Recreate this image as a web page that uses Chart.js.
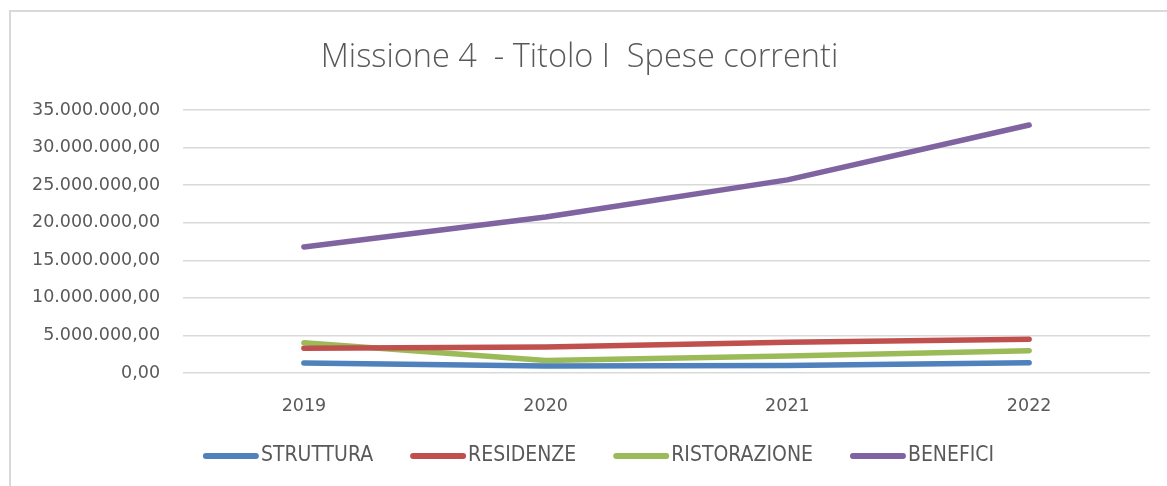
<!DOCTYPE html>
<html>
<head>
<meta charset="utf-8">
<script src="https://cdn.jsdelivr.net/npm/chart.js@4/dist/chart.umd.min.js"></script>
<style>
  html, body { margin: 0; padding: 0; background: #fff; overflow: hidden; }
  #frame {
    position: absolute; left: 9px; top: 10px; width: 1200px; height: 500px;
    border-left: 2px solid #d9d9d9; border-top: 2px solid #d9d9d9;
  }
  #wrap { position: absolute; left: 0; top: 0; width: 1167px; height: 486px; }
</style>
</head>
<body>
<div id="frame"></div>
<div id="wrap"><canvas id="myChart"></canvas></div>
<script>
var anni = ['2019', '2020', '2021', '2022'];
var struttura = [1330000, 930000, 1000000, 1370000];
var residenze = [3300000, 3460000, 4080000, 4500000];
var ristorazione = [4040000, 1650000, 2260000, 2970000];
var benefici = [16770000, 20760000, 25700000, 33000000];

var tickFont = { family: 'DejaVu Sans', size: 17.5 };

function formatta(v) {
    var parti = Math.round(v).toString().replace(/\B(?=(\d{3})+(?!\d))/g, '.');
    return parti + ',00';
}

function serie(label, data, colore) {
    return {
        label: label,
        data: data,
        borderColor: colore,
        backgroundColor: colore,
        borderWidth: 5.5,
        borderCapStyle: 'round',
        borderJoinStyle: 'round',
        pointRadius: 0,
        tension: 0
    };
}

// legenda disegnata a mano: linea lunga e testo attaccato
var legendaPlugin = {
    id: 'legenda',
    afterDraw: function (chart) {
        var c = chart.ctx;
        var y = 456;
        var lunghezza = 50;
        var gap = 5;
        var spazio = 34;
        c.save();
        c.font = '21px "DejaVu Sans Condensed"';
        var larghezze = chart.data.datasets.map(function (d) {
            return lunghezza + 6 + gap + c.measureText(d.label).width;
        });
        var totale = larghezze.reduce(function (a, b) { return a + b; }, 0) + spazio * (larghezze.length - 1);
        var x = 600 - totale / 2;
        chart.data.datasets.forEach(function (d, i) {
            c.strokeStyle = d.borderColor;
            c.lineWidth = 6;
            c.lineCap = 'round';
            c.beginPath();
            c.moveTo(x + 3, y);
            c.lineTo(x + 3 + lunghezza, y);
            c.stroke();
            c.fillStyle = '#595959';
            c.textBaseline = 'middle';
            c.fillText(d.label, x + lunghezza + 6 + gap - 3, y);
            x += larghezze[i] + spazio;
        });
        c.restore();
    }
};

var ctx = document.getElementById('myChart');
var myChart = new Chart(ctx, {
    type: 'line',
    data: {
        labels: anni,
        datasets: [
            serie('STRUTTURA', struttura, '#4f81bd'),
            serie('RESIDENZE', residenze, '#c0504d'),
            serie('RISTORAZIONE', ristorazione, '#9bbb59'),
            serie('BENEFICI', benefici, '#8064a2')
        ]
    },
    options: {
        responsive: true,
        maintainAspectRatio: false,
        animation: false,
        layout: { padding: { left: 9, right: 17, top: 38, bottom: 54 } },
        plugins: {
            title: {
                display: true,
                text: 'Missione 4  - Titolo I  Spese correnti',
                color: '#595959',
                font: { family: 'Open Sans', size: 32.5, weight: '300' },
                padding: { top: 0, bottom: 33 }
            },
            legend: { display: false },
            tooltip: { enabled: false }
        },
        scales: {
            x: {
                offset: true,
                grid: { display: false },
                border: { display: false },
                ticks: { color: '#595959', font: tickFont, padding: 15 }
            },
            y: {
                min: 0,
                max: 35000000,
                ticks: {
                    stepSize: 5000000,
                    color: '#595959',
                    font: tickFont,
                    padding: 23,
                    callback: function (v) { return formatta(v); }
                },
                grid: { color: '#d9d9d9', lineWidth: 1.5, drawTicks: false },
                border: { display: false }
            }
        }
    },
    plugins: [legendaPlugin]
});
</script>
</body>
</html>
